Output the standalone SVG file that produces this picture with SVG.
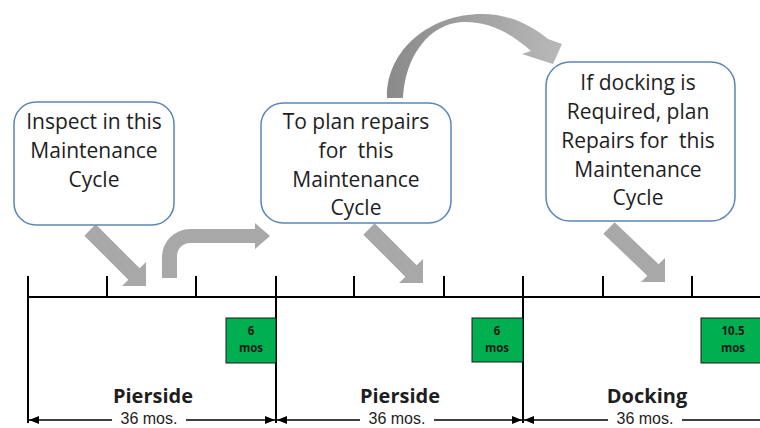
<svg xmlns="http://www.w3.org/2000/svg" width="760" height="428" viewBox="0 0 760 428">
<style>
.box{fill:#fff;stroke:#5a86b8;stroke-width:1.5}
.bt{font-family:"Open Sans","Noto Sans",sans-serif;font-size:21px;fill:#1e1e1e;text-anchor:middle}
.lbl{font-family:"Open Sans","Noto Sans",sans-serif;font-size:20px;font-weight:bold;fill:#1e1e1e;text-anchor:middle}
.dim{font-family:"Liberation Sans",Arial,sans-serif;font-size:16px;fill:#1e1e1e;text-anchor:middle}
.gt{font-family:"Open Sans","Noto Sans",sans-serif;font-size:11.5px;font-weight:bold;fill:#1a1a1a;text-anchor:middle}
.green{fill:#00b050;stroke:#1a1a1a;stroke-width:1}
.ln{stroke:#000;stroke-width:2;fill:none}
.dl{stroke:#000;stroke-width:1.3;fill:none;marker-end:url(#ah)}
.garrow{fill:#a8a8a8}
</style>
<defs>
<marker id="ah" markerUnits="userSpaceOnUse" markerWidth="11" markerHeight="9" refX="10" refY="4" orient="auto">
<path d="M0,0 L10,4 L0,8 Z" fill="#000"/>
</marker>
<linearGradient id="cg" x1="0" y1="0" x2="1" y2="0">
<stop offset="0" stop-color="#8a8a8a"/>
<stop offset="1" stop-color="#b8b8b8"/>
</linearGradient>
</defs>
<g id="connectors">
<polygon class="garrow" points="95.66,224.34 139.66,268.34 146,262 146,286 122,286 128.34,279.66 84.34,235.66"/>
<polygon class="garrow" points="374.66,223.34 416.66,265.34 423,259 423,283 399,283 405.34,276.66 363.34,234.66"/>
<polygon class="garrow" points="614.66,222.34 658.66,264.34 665,258 665,282 641,282 647.34,275.66 603.34,233.66"/>
<path class="garrow" d="M162,278 L162,257 A28,28 0 0 1 190,229 L255,229 L255,223 L270,236 L255,249 L255,243 L190,243 A13,13 0 0 0 177,256 L177,278 Z"/>
<path fill="url(#cg)" d="M387,98 C386,50 430,14 482,14 C510,14 532,26 548,39 L562,44 L553,64 L522,54 L531,51 C512,34 490,21 462,22 C430,24 405,55 403,98 Z"/>
</g>
<g id="timeline">
<line class="ln" x1="28" y1="297" x2="760" y2="297"/>
<line class="ln" x1="28" y1="276" x2="28" y2="423"/>
<line class="ln" x1="276" y1="276" x2="276" y2="423"/>
<line class="ln" x1="523" y1="276" x2="523" y2="423"/>
<line class="ln" x1="107" y1="276" x2="107" y2="297"/>
<line class="ln" x1="196" y1="276" x2="196" y2="297"/>
<line class="ln" x1="354" y1="276" x2="354" y2="297"/>
<line class="ln" x1="444" y1="276" x2="444" y2="297"/>
<line class="ln" x1="603" y1="276" x2="603" y2="297"/>
<line class="ln" x1="692" y1="276" x2="692" y2="297"/>
</g>
<g id="box1">
<rect class="box" x="14" y="102" width="160" height="123" rx="22"/>
<text class="bt" x="94" y="129">Inspect in this</text>
<text class="bt" x="94" y="158">Maintenance</text>
<text class="bt" x="94" y="187">Cycle</text>
</g>
<g id="box2">
<rect class="box" x="261" y="103" width="190" height="120" rx="22"/>
<text class="bt" x="356" y="129">To plan repairs</text>
<text class="bt" x="356" y="158" xml:space="preserve">for  this</text>
<text class="bt" x="356" y="187">Maintenance</text>
<text class="bt" x="356" y="215">Cycle</text>
</g>
<g id="box3">
<rect class="box" x="546" y="62" width="189" height="159" rx="24"/>
<text class="bt" x="638" y="90">If docking is</text>
<text class="bt" x="638" y="119">Required, plan</text>
<text class="bt" x="638" y="148" xml:space="preserve">Repairs for  this</text>
<text class="bt" x="638" y="177">Maintenance</text>
<text class="bt" x="638" y="205">Cycle</text>
</g>
<g id="g1">
<rect class="green" x="226" y="318" width="50" height="45"/>
<text class="gt" x="251" y="335">6</text>
<text class="gt" x="251" y="352">mos</text>
</g>
<g id="g2">
<rect class="green" x="472" y="318" width="51" height="44"/>
<text class="gt" x="497" y="335">6</text>
<text class="gt" x="497" y="352">mos</text>
</g>
<g id="g3">
<rect class="green" x="701" y="318" width="66" height="45"/>
<text class="gt" x="733" y="335">10.5</text>
<text class="gt" x="733" y="352">mos</text>
</g>
<g id="period1">
<text class="lbl" x="153" y="403">Pierside</text>
<text class="dim" x="149" y="424">36 mos.</text>
<line class="dl" x1="112" y1="420" x2="29" y2="420"/>
<line class="dl" x1="186" y1="420" x2="275" y2="420"/>
</g>
<g id="period2">
<text class="lbl" x="400" y="403">Pierside</text>
<text class="dim" x="397" y="424">36 mos.</text>
<line class="dl" x1="360" y1="420" x2="277" y2="420"/>
<line class="dl" x1="434" y1="420" x2="522" y2="420"/>
</g>
<g id="period3">
<text class="lbl" x="647" y="403">Docking</text>
<text class="dim" x="645" y="424">36 mos.</text>
<line class="dl" x1="608" y1="420" x2="524" y2="420"/>
<line stroke="#000" stroke-width="1.3" x1="682" y1="420" x2="760" y2="420"/>
</g>
</svg>
